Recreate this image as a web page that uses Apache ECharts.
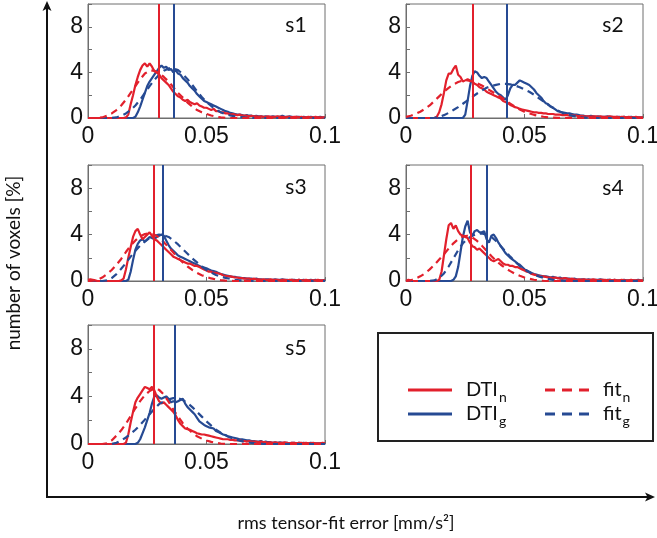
<!DOCTYPE html>
<html><head><meta charset="utf-8">
<script src="https://cdn.jsdelivr.net/npm/echarts@6.0.0/dist/echarts.min.js"></script>
<style>html,body{margin:0;padding:0;background:#fff}#c{width:657px;height:538px}</style>
</head><body><div id="c"></div><script>
// ---------- DATA ----------
const xHist = [0,0.001,0.002,0.003,0.004,0.005,0.006,0.007,0.008,0.009,
0.01,0.011,0.012,0.013,0.014,0.015,0.016,0.017,0.018,0.019,
0.02,0.021,0.022,0.023,0.024,0.025,0.026,0.027,0.028,0.029,
0.03,0.031,0.032,0.033,0.034,0.035,0.036,0.037,0.038,0.039,
0.04,0.041,0.042,0.043,0.044,0.045,0.046,0.047,0.048,0.049,
0.05,0.051,0.052,0.053,0.054,0.055,0.056,0.057,0.058,0.059,
0.06,0.061,0.062,0.063,0.064,0.065,0.066,0.067,0.068,0.069,
0.07,0.071,0.072,0.073,0.074,0.075,0.076,0.077,0.078,0.079,
0.08,0.081,0.082,0.083,0.084,0.085,0.086,0.087,0.088,0.089,
0.09,0.091,0.092,0.093,0.094,0.095,0.096,0.097,0.098,0.099,
0.1];
const xFit = [0,0.002,0.004,0.006,0.008,0.01,0.012,0.014,0.016,0.018,
0.02,0.022,0.024,0.026,0.028,0.03,0.032,0.034,0.036,0.038,
0.04,0.042,0.044,0.046,0.048,0.05,0.052,0.054,0.056,0.058,
0.06,0.062,0.064,0.066,0.068,0.07,0.072,0.074,0.076,0.078,
0.08,0.082,0.084,0.086,0.088,0.09,0.092,0.094,0.096,0.098,
0.1];

// histograms DTI_n (red) and DTI_g (blue), per subject
const hN1 = [0,0,0,0,0,0,0,0,0,0,
0,0,0,0,0,0,0.05,0.3,1.2,2.0,
2.9,3.6,4.2,4.6,4.8,4.5,4.8,4.5,4.1,4.0,
3.8,3.5,3.3,3.1,2.9,2.6,2.3,2.1,1.9,1.8,
1.6,1.5,1.6,1.4,1.3,1.2,1.3,1.1,1.0,0.9,
0.9,0.8,0.7,0.8,0.6,0.6,0.5,0.5,0.4,0.4,
0.3,0.35,0.3,0.25,0.3,0.2,0.2,0.2,0.15,0.2,
0.15,0.15,0.1,0.15,0.1,0.1,0.15,0.1,0.1,0.1,
0.15,0.1,0.1,0.05,0.1,0.1,0.05,0.1,0.1,0.05,
0.1,0.05,0.05,0.1,0.05,0.05,0.1,0.05,0.05,0.05,
0.05];
const hG1 = [0,0,0,0,0,0,0,0,0,0,
0,0,0,0,0,0,0,0,0,0,
0.1,0.5,1.0,1.6,2.2,2.8,3.2,3.5,3.8,4.1,
4.4,4.6,4.4,4.5,4.2,4.3,4.0,4.2,3.9,3.8,
3.5,3.3,3.1,2.8,2.6,2.4,2.1,1.9,1.7,1.5,
1.4,1.3,1.2,1.1,1.0,0.9,0.8,0.7,0.6,0.55,
0.45,0.4,0.35,0.3,0.3,0.25,0.2,0.25,0.2,0.2,
0.15,0.2,0.15,0.15,0.1,0.15,0.1,0.1,0.15,0.1,
0.1,0.1,0.2,0.1,0.1,0.15,0.1,0.05,0.1,0.1,
0.05,0.1,0.05,0.05,0.1,0.05,0.05,0.05,0.1,0.05,
0.05];
const hN2 = [0,0,0,0,0,0,0,0,0,0,
0,0,0,0.1,0.5,1.2,2.2,3.3,3.9,3.9,
4.3,4.6,3.8,3.6,3.2,3.3,3.4,3.3,3.2,3.0,
2.9,2.7,2.6,2.5,2.3,2.2,2.1,2.0,1.9,1.8,
1.7,1.5,1.4,1.3,1.15,1.05,0.95,0.9,0.8,0.75,
0.7,0.65,0.6,0.55,0.5,0.5,0.45,0.45,0.4,0.4,
0.35,0.35,0.35,0.3,0.3,0.3,0.25,0.25,0.25,0.2,
0.2,0.2,0.2,0.15,0.2,0.15,0.15,0.15,0.1,0.15,
0.15,0.1,0.15,0.1,0.1,0.1,0.15,0.1,0.1,0.1,
0.05,0.1,0.1,0.05,0.1,0.05,0.05,0.1,0.05,0.05,
0.05];
const hG2 = [0,0,0,0,0,0,0,0,0,0,
0,0,0,0,0,0,0,0,0,0,
0,0,0,0,0,0.3,1.5,2.8,3.7,4.1,
4.0,3.7,3.5,3.6,3.5,3.2,2.9,2.6,2.3,2.1,
2.0,1.8,1.6,2.0,2.6,2.9,2.9,3.1,3.3,3.2,
3.1,3.0,2.9,2.7,2.5,2.2,2.0,1.8,1.5,1.3,
1.2,1.0,0.9,0.75,0.6,0.55,0.5,0.45,0.4,0.4,
0.35,0.3,0.3,0.25,0.2,0.2,0.15,0.15,0.2,0.15,
0.1,0.15,0.1,0.1,0.1,0.15,0.1,0.1,0.05,0.1,
0.1,0.05,0.1,0.05,0.05,0.1,0.05,0.05,0.05,0.05,
0.05];
const hN3 = [0.1,0.15,0.1,0.05,0,0,0,0,0,0,
0,0,0,0,0.05,0.2,1.0,2.0,2.9,3.8,
4.3,4.5,4.0,3.6,3.8,4.0,4.2,3.9,3.6,3.5,
3.3,3.1,2.9,2.7,2.5,2.3,2.1,2.0,1.9,1.8,
1.7,1.6,1.5,1.5,1.4,1.3,1.3,1.2,1.1,1.0,
0.9,0.8,0.8,0.7,0.7,0.65,0.6,0.5,0.45,0.4,
0.4,0.35,0.3,0.3,0.25,0.25,0.2,0.2,0.2,0.15,
0.2,0.15,0.15,0.1,0.15,0.1,0.1,0.15,0.1,0.1,
0.1,0.05,0.1,0.1,0.05,0.1,0.1,0.05,0.05,0.1,
0.05,0.05,0.1,0.05,0.05,0.05,0.05,0.1,0.05,0.05,
0.05];
const hG3 = [0,0,0,0,0,0,0,0,0,0,
0,0,0,0,0,0,0,0.1,0.8,1.8,
2.7,3.2,3.5,3.6,3.4,3.6,3.8,3.7,3.6,3.8,
3.9,4.0,3.9,3.5,3.1,2.8,2.6,2.4,2.2,2.1,
2.0,1.9,1.8,1.7,1.6,1.5,1.4,1.3,1.2,1.15,
1.1,1.0,0.9,0.85,0.8,0.7,0.6,0.55,0.5,0.45,
0.4,0.35,0.35,0.3,0.3,0.25,0.25,0.2,0.2,0.2,
0.15,0.2,0.15,0.15,0.1,0.15,0.15,0.1,0.1,0.15,
0.1,0.1,0.15,0.1,0.1,0.05,0.1,0.1,0.05,0.1,
0.05,0.1,0.05,0.05,0.1,0.05,0.1,0.05,0.05,0.05,
0.1];
const hN4 = [0,0.1,0.05,0,0,0,0,0,0,0,
0,0,0,0,0.1,0.8,2.2,3.6,4.8,5.0,
4.5,4.8,4.3,4.0,3.9,3.8,3.7,3.3,3.0,2.9,
2.7,2.8,2.6,2.4,2.2,2.0,1.8,1.7,1.8,1.9,
1.7,1.5,1.4,1.4,1.3,1.3,1.2,1.2,1.1,1.0,
0.9,0.8,0.75,0.6,0.55,0.5,0.45,0.4,0.4,0.35,
0.3,0.3,0.25,0.3,0.25,0.2,0.2,0.25,0.2,0.15,
0.2,0.15,0.1,0.15,0.1,0.15,0.1,0.1,0.1,0.15,
0.1,0.05,0.1,0.1,0.1,0.05,0.1,0.05,0.1,0.05,
0.05,0.1,0.05,0.05,0.05,0.1,0.05,0.05,0.05,0.05,
0.05];
const hG4 = [0,0,0,0,0,0,0,0,0,0,
0,0,0,0,0,0,0,0,0,0,
0.1,0.4,1.2,2.5,3.8,4.7,5.2,4.2,3.9,4.3,
4.4,4.2,4.2,4.3,3.6,3.3,3.9,4.0,3.7,3.3,
3.0,2.7,2.4,2.2,2.0,1.85,1.7,1.5,1.4,1.2,
1.0,0.9,0.8,0.7,0.6,0.55,0.5,0.45,0.4,0.4,
0.35,0.3,0.35,0.3,0.25,0.3,0.2,0.25,0.2,0.2,
0.15,0.2,0.15,0.1,0.15,0.15,0.1,0.15,0.1,0.1,
0.1,0.1,0.15,0.1,0.05,0.1,0.1,0.05,0.1,0.05,
0.05,0.05,0.1,0.05,0.05,0.05,0.05,0.05,0.1,0.05,
0.05];
const hN5 = [0,0,0,0,0,0,0,0,0,0,
0,0,0,0,0,0,0.1,0.8,1.8,2.7,
3.5,3.9,4.2,4.5,4.8,4.7,4.6,4.8,4.5,4.0,
3.6,3.4,3.5,3.3,3.1,2.9,2.7,2.4,2.0,1.7,
1.5,1.3,1.25,1.2,1.1,1.0,0.9,0.85,0.8,0.8,
0.75,0.7,0.65,0.6,0.55,0.5,0.45,0.4,0.4,0.4,
0.35,0.35,0.3,0.3,0.3,0.25,0.25,0.2,0.25,0.2,
0.2,0.2,0.15,0.2,0.15,0.15,0.1,0.15,0.1,0.15,
0.1,0.1,0.1,0.15,0.1,0.05,0.1,0.1,0.05,0.1,
0.1,0.05,0.1,0.05,0.05,0.1,0.05,0.05,0.05,0.1,
0.05];
const hG5 = [0,0,0,0,0,0,0,0,0,0,
0,0,0,0,0,0,0,0,0,0,
0,0.1,0.4,0.9,1.4,2.0,2.6,3.4,4.0,4.1,
3.9,3.8,3.9,4.0,3.8,3.5,3.6,3.5,3.6,3.7,
3.8,3.4,3.1,2.9,2.7,2.5,2.2,1.9,1.75,1.6,
1.5,1.4,1.35,1.3,1.1,1.0,0.9,0.8,0.75,0.65,
0.6,0.55,0.5,0.45,0.4,0.4,0.35,0.3,0.3,0.25,
0.25,0.2,0.2,0.25,0.15,0.2,0.15,0.15,0.1,0.15,
0.1,0.15,0.1,0.1,0.1,0.05,0.1,0.1,0.05,0.1,
0.05,0.1,0.05,0.05,0.1,0.05,0.05,0.05,0.05,0.05,
0.05];

// fitted curves fit_n (red dashed) and fit_g (blue dashed)
const fN1 = [0,0,0,0.05,0.2,0.4,0.7,1.1,1.6,2.2,
2.8,3.4,3.9,4.15,4.15,3.95,3.6,3.2,2.7,2.2,
1.8,1.35,1.0,0.7,0.5,0.35,0.22,0.12,0.06,0.02,
0,0,0,0,0,0,0,0,0,0,
0,0,0,0,0,0,0,0,0,0,
0];
const fG1 = [0,0,0,0,0,0,0.05,0.2,0.4,0.7,
1.1,1.6,2.2,2.8,3.35,3.8,4.15,4.35,4.35,4.2,
3.85,3.4,2.9,2.35,1.85,1.4,1.05,0.75,0.5,0.33,
0.22,0.14,0.09,0.05,0.03,0.01,0,0,0,0,
0,0,0,0,0,0,0,0,0,0,
0];
const fN2 = [0.1,0.2,0.35,0.55,0.8,1.1,1.5,1.9,2.3,2.65,
2.95,3.15,3.3,3.3,3.2,3.05,2.85,2.6,2.35,2.1,
1.85,1.55,1.25,1.0,0.75,0.55,0.4,0.28,0.18,0.11,
0.06,0.03,0.01,0,0,0,0,0,0,0,
0,0,0,0,0,0,0,0,0,0,
0];
const fG2 = [0,0,0,0,0,0,0.02,0.1,0.25,0.45,
0.7,0.95,1.25,1.55,1.85,2.15,2.4,2.65,2.8,2.9,
3.0,3.0,2.95,2.85,2.7,2.5,2.3,2.05,1.75,1.45,
1.15,0.9,0.65,0.45,0.3,0.2,0.12,0.06,0.03,0.01,
0,0,0,0,0,0,0,0,0,0,
0];
const fN3 = [0,0.02,0.1,0.3,0.6,0.95,1.4,1.9,2.5,3.05,
3.5,3.85,4.05,4.1,4.0,3.75,3.35,2.9,2.45,2.0,
1.6,1.25,0.95,0.7,0.5,0.35,0.22,0.13,0.07,0.03,
0.01,0,0,0,0,0,0,0,0,0,
0,0,0,0,0,0,0,0,0,0,
0];
const fG3 = [0,0,0,0,0.05,0.25,0.6,1.05,1.55,2.1,
2.6,3.05,3.4,3.7,3.9,4.0,3.95,3.8,3.5,3.15,
2.75,2.35,1.95,1.6,1.25,0.95,0.72,0.52,0.38,0.27,
0.18,0.11,0.06,0.03,0.01,0,0,0,0,0,
0,0,0,0,0,0,0,0,0,0,
0];
const fN4 = [0,0.05,0.2,0.4,0.65,1.0,1.4,1.85,2.3,2.8,
3.25,3.6,3.85,3.9,3.75,3.45,3.05,2.6,2.15,1.75,
1.4,1.1,0.85,0.62,0.45,0.3,0.19,0.11,0.05,0.02,
0,0,0,0,0,0,0,0,0,0,
0,0,0,0,0,0,0,0,0,0,
0];
const fG4 = [0,0,0,0,0,0,0.05,0.25,0.65,1.25,
1.95,2.65,3.25,3.65,3.9,4.05,4.1,4.0,3.8,3.45,
3.0,2.55,2.1,1.7,1.3,1.0,0.75,0.55,0.4,0.28,
0.18,0.1,0.05,0.02,0,0,0,0,0,0,
0,0,0,0,0,0,0,0,0,0,
0];
const fN5 = [0,0,0,0,0.05,0.3,0.7,1.15,1.7,2.35,
3.0,3.6,4.1,4.45,4.65,4.55,4.15,3.55,2.9,2.3,
1.75,1.3,0.95,0.65,0.45,0.3,0.18,0.1,0.04,0.01,
0,0,0,0,0,0,0,0,0,0,
0,0,0,0,0,0,0,0,0,0,
0];
const fG5 = [0,0,0,0,0,0,0.1,0.3,0.55,0.85,
1.2,1.6,2.05,2.5,2.95,3.35,3.6,3.75,3.85,3.85,
3.7,3.45,3.1,2.7,2.3,1.9,1.55,1.2,0.95,0.72,
0.55,0.4,0.28,0.19,0.12,0.07,0.03,0.01,0,0,
0,0,0,0,0,0,0,0,0,0,
0];

// mean values (vertical lines)
const meanN = [0.0300,0.0281,0.0278,0.0274,0.0276];
const meanG = [0.0363,0.0425,0.0315,0.0340,0.0364];

const panelLabels = ['s1','s2','s3','s4','s5'];
const xTickLabels = ['0','0.05','0.1'];
const yTickLabels = ['0','4','8'];
const seriesNames = ['DTIn','DTIg','fitn','fitg'];

// ---------- LAYOUT / STYLE ----------
const RED = '#e2202c', BLUE = '#264a93';
const boxes = [
  {left:88, top:4, width:237, height:114},
  {left:406, top:4, width:237, height:114},
  {left:88, top:165, width:237, height:116},
  {left:406, top:165, width:237, height:116},
  {left:88, top:325, width:237, height:119}
];
const labelPos = [[296,25],[613,25],[296,187],[613,188],[296,348]];
const hists = [[hN1,hG1],[hN2,hG2],[hN3,hG3],[hN4,hG4],[hN5,hG5]];
const fits = [[fN1,fG1],[fN2,fG2],[fN3,fG3],[fN4,fG4],[fN5,fG5]];

const pairs = (xs, ys) => xs.map((x, k) => [x, ys[k]]);
const AX = '#6e6e6e';
const LW = 2.2;
const tickFont = {fontSize: 23, color: '#111', fontFamily: 'Liberation Sans, Arial, sans-serif'};

const grid = [], xAxis = [], yAxis = [], series = [];
boxes.forEach((b, i) => {
  grid.push(Object.assign({show: true, borderColor: AX, borderWidth: 1, containLabel: false, outerBoundsMode: 'none'}, b));
  xAxis.push({
    type: 'value', gridIndex: i, min: 0, max: 0.1, interval: 0.05,
    axisLine: {show: true, lineStyle: {color: AX, width: 1}},
    axisTick: {show: true, inside: true, length: 4, lineStyle: {color: AX}},
    splitLine: {show: false},
    axisLabel: Object.assign({margin: 7, showMinLabel: true, showMaxLabel: true, hideOverlap: false,
      formatter: v => { const s = String(+(+v).toFixed(3)); return xTickLabels.includes(s) ? s : ''; }}, tickFont)
  });
  yAxis.push({
    type: 'value', gridIndex: i, min: 0, max: 10, interval: 2,
    axisLine: {show: true, lineStyle: {color: AX, width: 1}},
    axisTick: {show: true, inside: true, length: 4, lineStyle: {color: AX}},
    splitLine: {show: false},
    axisLabel: Object.assign({margin: 5, showMinLabel: true, showMaxLabel: true, hideOverlap: false,
      formatter: v => { const s = String(v); return yTickLabels.includes(s) ? s : ''; }}, tickFont)
  });
  const [hN, hG] = hists[i], [fN, fG] = fits[i];
  const common = {type: 'line', xAxisIndex: i, yAxisIndex: i, symbol: 'none', showSymbol: false, animation: false, silent: true};
  series.push(Object.assign({}, common, {
    name: seriesNames[1], data: pairs(xHist, hG), itemStyle: {color: BLUE},
    lineStyle: {color: BLUE, width: LW},
    markLine: {silent: true, symbol: 'none', precision: 6, label: {show: false}, animation: false,
      lineStyle: {color: BLUE, width: 2, type: 'solid'}, data: [{xAxis: meanG[i]}]}
  }));
  series.push(Object.assign({}, common, {
    name: seriesNames[0], data: pairs(xHist, hN), itemStyle: {color: RED},
    lineStyle: {color: RED, width: LW},
    markLine: {silent: true, symbol: 'none', precision: 6, label: {show: false}, animation: false,
      lineStyle: {color: RED, width: 2, type: 'solid'}, data: [{xAxis: meanN[i]}]}
  }));
  series.push(Object.assign({}, common, {
    name: seriesNames[3], data: pairs(xFit, fG), itemStyle: {color: BLUE},
    lineStyle: {color: BLUE, width: LW, type: [7, 5]}
  }));
  series.push(Object.assign({}, common, {
    name: seriesNames[2], data: pairs(xFit, fN), itemStyle: {color: RED},
    lineStyle: {color: RED, width: LW, type: [7, 5]}
  }));
});

const lblFont = 'Lato, "Open Sans", sans-serif';
const subFmt = name => '{m|' + name.slice(0, -1) + '}{s|' + name.slice(-1) + '}';
const legendRich = {
  m: {fontSize: 20, fontFamily: lblFont, color: '#111', padding: [0, 0, 0, 9]},
  s: {fontSize: 14, fontFamily: lblFont, color: '#111', padding: [14, 0, 0, 1]}
};
const solidIcon = 'path://M0,0H44V3H0Z';
const dashIcon = 'path://M0,0H10V3H0Z M17,0H27V3H17Z M34,0H44V3H34Z';

const graphic = [
  {type: 'polyline', shape: {points: [[47, 497], [47, 6]]}, style: {stroke: '#111', lineWidth: 2, fill: null}},
  {type: 'polygon', shape: {points: [[47, 1], [42.5, 11], [47, 8.5], [51.5, 11]]}, style: {fill: '#111'}},
  {type: 'polyline', shape: {points: [[46, 497], [648, 497]]}, style: {stroke: '#111', lineWidth: 2, fill: null}},
  {type: 'polygon', shape: {points: [[655, 497], [645, 492.5], [647.5, 497], [645, 501.5]]}, style: {fill: '#111'}},
  {type: 'text', x: 14, y: 263, rotation: Math.PI / 2,
    style: {text: 'number of voxels [%]', fontSize: 19, fontFamily: lblFont, fill: '#111', align: 'center', verticalAlign: 'middle'}},
  {type: 'text', x: 346, y: 523,
    style: {text: 'rms tensor-fit error [mm/s²]', fontSize: 18, fontFamily: lblFont, fill: '#111', align: 'center', verticalAlign: 'middle'}},
  {type: 'rect', shape: {x: 378, y: 333, width: 275, height: 108}, style: {fill: 'transparent', stroke: '#222', lineWidth: 2}}
];
panelLabels.forEach((t, i) => graphic.push({type: 'text', x: labelPos[i][0], y: labelPos[i][1],
  style: {text: t, fontSize: 21, fontFamily: lblFont, fill: '#111', align: 'center', verticalAlign: 'middle'}}));

const chart = echarts.init(document.getElementById('c'), null, {renderer: 'canvas'});
chart.setOption({
  backgroundColor: '#fff',
  animation: false,
  grid, xAxis, yAxis, series, graphic,
  legend: [
    {data: [{name: 'DTIn', icon: solidIcon}, {name: 'DTIg', icon: solidIcon}], orient: 'vertical',
      left: 403, top: 375, itemWidth: 44, itemHeight: 3, itemGap: 0, selectedMode: false,
      formatter: subFmt, textStyle: {rich: legendRich}},
    {data: [{name: 'fitn', icon: dashIcon}, {name: 'fitg', icon: dashIcon}], orient: 'vertical',
      left: 540, top: 375, itemWidth: 44, itemHeight: 3, itemGap: 0, selectedMode: false,
      formatter: subFmt, textStyle: {rich: legendRich}}
  ]
});
</script></body></html>
